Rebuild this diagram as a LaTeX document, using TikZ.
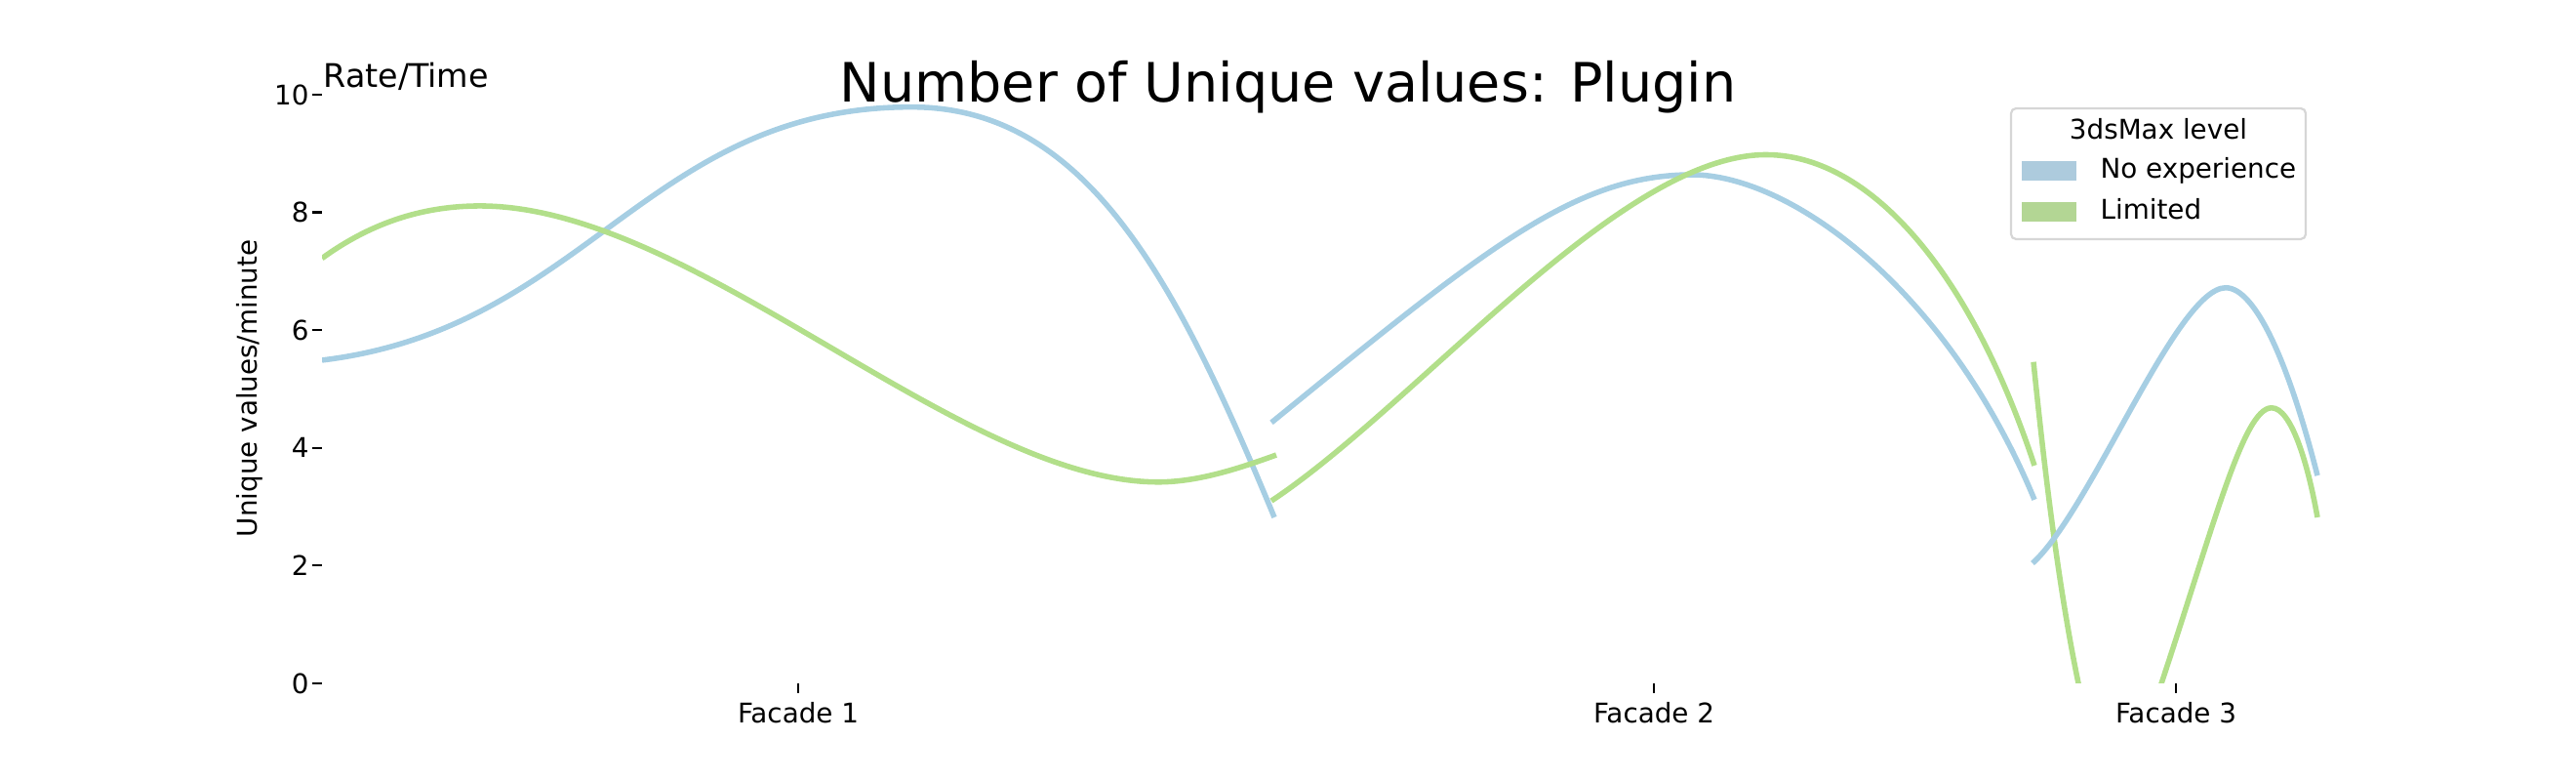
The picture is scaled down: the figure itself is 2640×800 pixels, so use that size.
\documentclass[tikz,border=0pt]{standalone}
\usepackage{fontspec}
\setmainfont{DejaVu Sans}
\usepackage{tikz}

\definecolor{noexpblue}{HTML}{A6CEE3}
\definecolor{limgreen}{HTML}{B2DF8A}
\definecolor{noexppatch}{RGB}{173,203,221}
\definecolor{limpatch}{RGB}{179,214,148}

\tikzset{
  curve/.style={line width=2pt},
  ticklabel/.style={inner sep=0pt,font=\fontsize{10}{12}\selectfont},
  tickmark/.style={line width=0.8pt},
  legendpatch/.style={minimum width=20.2pt,minimum height=7pt,inner sep=0pt},
}

\begin{document}
\begin{tikzpicture}[x=0.36pt,y=0.36pt]
        \useasboundingbox (0,0) rectangle (2640,800);
        \node[anchor=base,inner sep=0pt,font=\fontsize{20}{24}\selectfont] (title) at (1320,695) {Number of Unique values: Plugin};
        \node[anchor=base west,inner sep=0pt,font=\fontsize{12}{14}\selectfont] (ratetime) at (331,710) {Rate/Time};
        \node[ticklabel,rotate=90,anchor=base] (ylabel) at (263,402) {Unique values/minute};
        % axis ticks
        \foreach \v in {0,2,...,10}{
            \node[ticklabel,anchor=east] (ytick\v) at (317,100+60.3*\v) {\v};
            \draw[tickmark] ([xshift=1.08pt]ytick\v.east) -- ++(10,0);
        }
        \foreach \x/\n in {818/1,1695/2,2230/3}{
            \coordinate (xtick\n) at (\x,100);
            \draw[tickmark] (xtick\n) -- ++(0,-9.7);
            \node[ticklabel,anchor=base] (facade\n) at (\x,59) {Facade \n};
        }
        % curves
        \begin{scope}[yshift=36pt,y=21.708pt]
            \clip (330,0) rectangle (2400,10.2);
            % Facade 1
            \draw[curve,noexpblue] (330,5.49) .. controls (600,6.03) and (664,9.79) .. (934,9.79)
                .. controls (1114,9.79) and (1206,6.82) .. (1306,2.82);
            \draw[curve,limgreen] (330,7.22) .. controls (384,7.87) and (438,8.11) .. (492,8.11)
                .. controls (711,8.11) and (983,3.42) .. (1187,3.42)
                .. controls (1227,3.42) and (1268,3.64) .. (1308,3.88);
            % Facade 2
            \draw[curve,noexpblue] (1303,4.43) .. controls (1523,7.40) and (1614,8.64) .. (1734,8.64)
                .. controls (1834,8.64) and (1995,6.72) .. (2085,3.12);
            \draw[curve,limgreen] (1303,3.10) .. controls (1453,4.75) and (1660,8.98) .. (1810,8.98)
                .. controls (1910,8.98) and (2015,7.2) .. (2085,3.70);
            % Facade 3
            \draw[curve,limgreen] (2084,5.46) .. controls (2093,4.0) and (2110,1.4) .. (2136,-0.45);
            \draw[curve,noexpblue] (2083,2.04) .. controls (2143,2.94) and (2231,6.72) .. (2281,6.72)
                .. controls (2311,6.72) and (2345,5.48) .. (2375,3.53);
            \draw[curve,limgreen] (2207,-0.4) .. controls (2267,2.54) and (2298,4.68) .. (2328,4.68)
                .. controls (2348,4.68) and (2365,3.75) .. (2375,2.82);
        \end{scope}
        % legend
        \node[draw=black!16,line width=0.8pt,rounded corners=1.8pt,fill=white,minimum width=108.7pt,minimum height=48.2pt,inner sep=0pt] (legend) at (2212,622) {};
        \node[ticklabel,anchor=base] (legtitle) at (2212,657) {3dsMax level};
        \node[legendpatch,fill=noexppatch] (noexpkey) at (2100,625) {};
        \node[legendpatch,fill=limpatch] (limkey) at (2100,583) {};
        \node[ticklabel,anchor=base west] (noexptext) at (2152,617) {No experience};
        \node[ticklabel,anchor=base west] (limtext) at (2152,575) {Limited};
\end{tikzpicture}
\end{document}
